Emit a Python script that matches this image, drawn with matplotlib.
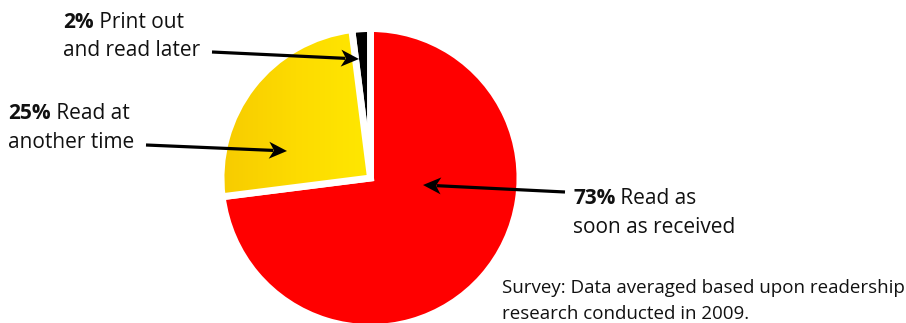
import matplotlib
matplotlib.use('Agg')
import matplotlib.pyplot as plt
import numpy as np
from matplotlib.colors import LinearSegmentedColormap

W, H = 906, 323

# ---- data ----
shares = [73, 25, 2]
pct_labels = ['73%', '25%', '2%']
label_line1 = ['Read as', 'Read at', 'Print out']
label_line2 = ['soon as received', 'another time', 'and read later']
note_lines = ['Survey: Data averaged based upon readership',
              'research conducted in 2009.']
colors = ['#FF0000', '#FFDA00', '#000000']

plt.rcParams['font.family'] = ['Open Sans', 'DejaVu Sans']
fig = plt.figure(figsize=(W / 100, H / 100), dpi=100)
ax = fig.add_axes([0, 0, 1, 1])


def Y(y):
    return H - y


cx, cy, R = 370.5, Y(178), 149.5
wedges, _ = ax.pie(shares, colors=colors, startangle=90, counterclock=False,
                   center=(cx, cy), radius=R,
                   wedgeprops=dict(edgecolor='white', linewidth=5.0))

# gradient on the yellow wedge
cmap = LinearSegmentedColormap.from_list('yel', ['#F7CB00', '#FDDB00', '#FFE800'])
nx = 300
grad = np.tile(np.linspace(0, 1, nx), (200, 1))
im = ax.imshow(grad, extent=[cx - R - 2, cx + 2, cy - 30, cy + R + 2],
               origin='lower', cmap=cmap, aspect='auto', zorder=2,
               interpolation='bilinear')
im.set_clip_path(wedges[1])
wedges[1].set_facecolor('none')
wedges[1].set_zorder(3)

ax.set_xlim(0, W)
ax.set_ylim(0, H)
ax.set_aspect('auto')
ax.axis('off')

# ---- arrows (line + notched head) ----
arrow_tails = [(565, 192), (146, 145), (212, 52)]
arrow_heads = [(423, 185), (287, 151), (359, 59)]
L, HW, notch = 18.0, 8.5, 0.72
head_shape = np.array([[0, 0], [-L, HW], [-notch * L, 0], [-L, -HW], [0, 0]])
for (tx, ty), (hx, hy) in zip(arrow_tails, arrow_heads):
    x0, y0, x1, y1 = tx, Y(ty), hx, Y(hy)
    th = np.arctan2(y1 - y0, x1 - x0)
    c, s = np.cos(th), np.sin(th)
    rot = head_shape @ np.array([[c, s], [-s, c]])
    ax.fill(x1 + rot[:, 0], y1 + rot[:, 1], color='black', lw=0, zorder=6)
    ex, ey = x1 - c * notch * L * 1.05, y1 - s * notch * L * 1.05
    ax.plot([x0, ex], [y0, ey], color='black', lw=2.3,
            solid_capstyle='butt', zorder=6)

# ---- labels ----
renderer = fig.canvas.get_renderer()
label_pos = [(573, 204, 233), (8, 119, 148), (63, 28, 56)]
txt_color = '#111111'
for pct, l1, l2, (x, b1, b2) in zip(pct_labels, label_line1, label_line2, label_pos):
    tb = ax.text(x, Y(b1), pct, fontsize=15, fontweight='bold', va='baseline',
                 ha='left', color=txt_color, zorder=7)
    bw = tb.get_window_extent(renderer).width
    ax.text(x + bw, Y(b1), ' ' + l1, fontsize=15, va='baseline', ha='left',
            color=txt_color, zorder=7)
    ax.text(x, Y(b2), l2, fontsize=15, va='baseline', ha='left',
            color=txt_color, zorder=7)

note_pos = [(502, 293), (502, 319)]
for line, (x, b) in zip(note_lines, note_pos):
    ax.text(x, Y(b), line, fontsize=13.5, va='baseline', ha='left',
            color=txt_color, zorder=7)

ax.set_xlim(0, W)
ax.set_ylim(0, H)
fig.savefig('out.png', dpi=100)
